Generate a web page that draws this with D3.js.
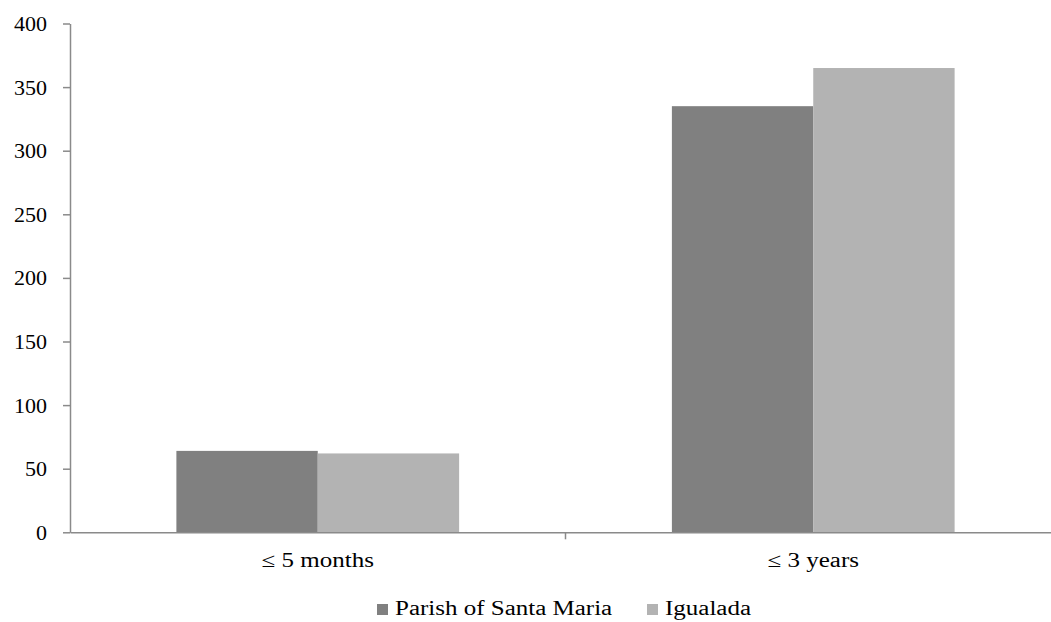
<!DOCTYPE html>
<html>
<head>
<meta charset="utf-8">
<script src="https://cdn.jsdelivr.net/npm/d3@7"></script>
<style>
  html, body { margin: 0; padding: 0; background: #ffffff; }
  svg { display: block; }
</style>
</head>
<body>
<svg id="chart" width="1051" height="622"></svg>
<script>
// Age groups on the x axis
const categories = ["\u2264 5 months", "\u2264 3 years"];
// Series names and their values per age group
const seriesNames = ["Parish of Santa Maria", "Igualada"];
const santaMaria = [64, 335];
const igualada = [62, 365];
// Y axis ticks
const yTicks = [0, 50, 100, 150, 200, 250, 300, 350, 400];

const colors = ["#808080", "#b3b3b3"];
const seriesValues = [santaMaria, igualada];
const serif = "Liberation Serif";
const wide = "scale(1.25,1)"; // horizontally widened label type

const svg = d3.select("#chart");
const margin = { left: 70, top: 23.5, bottom: 532.3 };
const plotRight = 1061;

const x = d3.scaleBand().domain(categories).range([margin.left, plotRight]).paddingInner(0).paddingOuter(0);
const x1 = d3.scaleBand().domain(seriesNames).range([0, x.bandwidth()]).paddingOuter(0.7526).paddingInner(0);
const y = d3.scaleLinear().domain([0, 400]).range([margin.bottom, margin.top]);

// Bars
const groups = svg.append("g").selectAll("g")
  .data(categories)
  .join("g")
  .attr("transform", d => `translate(${x(d)},0)`);

groups.selectAll("rect")
  .data((c, i) => seriesNames.map((s, k) => ({ s, k, v: seriesValues[k][i] })))
  .join("rect")
  .attr("x", d => x1(d.s))
  .attr("width", x1.bandwidth())
  .attr("y", d => y(d.v))
  .attr("height", d => y(0) - y(d.v))
  .attr("fill", d => colors[d.k]);

const axisColor = "#8a8a8a";

// Y axis
const yAxis = svg.append("g")
  .attr("transform", `translate(${margin.left},0)`)
  .call(d3.axisLeft(y).tickValues(yTicks).tickSize(7).tickPadding(16).tickSizeOuter(0));
yAxis.attr("font-family", serif).attr("font-size", 22);
yAxis.select(".domain").attr("stroke", axisColor).attr("stroke-width", 1.5);
yAxis.selectAll(".tick line").attr("stroke", axisColor).attr("stroke-width", 1.5);
yAxis.selectAll(".tick text").attr("fill", "#000");

// X axis
const xAxis = svg.append("g")
  .attr("transform", `translate(0,${y(0)})`)
  .call(d3.axisBottom(x).tickSize(0).tickPadding(21).tickSizeOuter(0));
xAxis.attr("font-family", serif).attr("font-size", 20);
xAxis.select(".domain").attr("stroke", axisColor).attr("stroke-width", 1.5);
xAxis.selectAll(".tick text").attr("fill", "#000").attr("transform", wide);

// Tick marks at the boundaries between categories
const boundaries = categories.slice(1).map(c => x(c));
xAxis.selectAll("line.sep")
  .data(boundaries)
  .join("line")
  .attr("class", "sep")
  .attr("x1", d => d).attr("x2", d => d)
  .attr("y1", 0).attr("y2", 7)
  .attr("stroke", axisColor).attr("stroke-width", 1.5);

// Legend
const legend = svg.append("g").attr("transform", "translate(0,615)")
  .attr("font-family", serif).attr("font-size", 20);
const legendX = [377, 647];
const items = legend.selectAll("g")
  .data(seriesNames)
  .join("g")
  .attr("transform", (d, i) => `translate(${legendX[i]},0)`);
items.append("rect")
  .attr("x", 0).attr("y", -11)
  .attr("width", 11).attr("height", 11)
  .attr("fill", (d, i) => colors[i]);
items.append("text")
  .attr("transform", `translate(18,0) ${wide}`)
  .attr("fill", "#000")
  .text(d => d);
</script>
</body>
</html>
